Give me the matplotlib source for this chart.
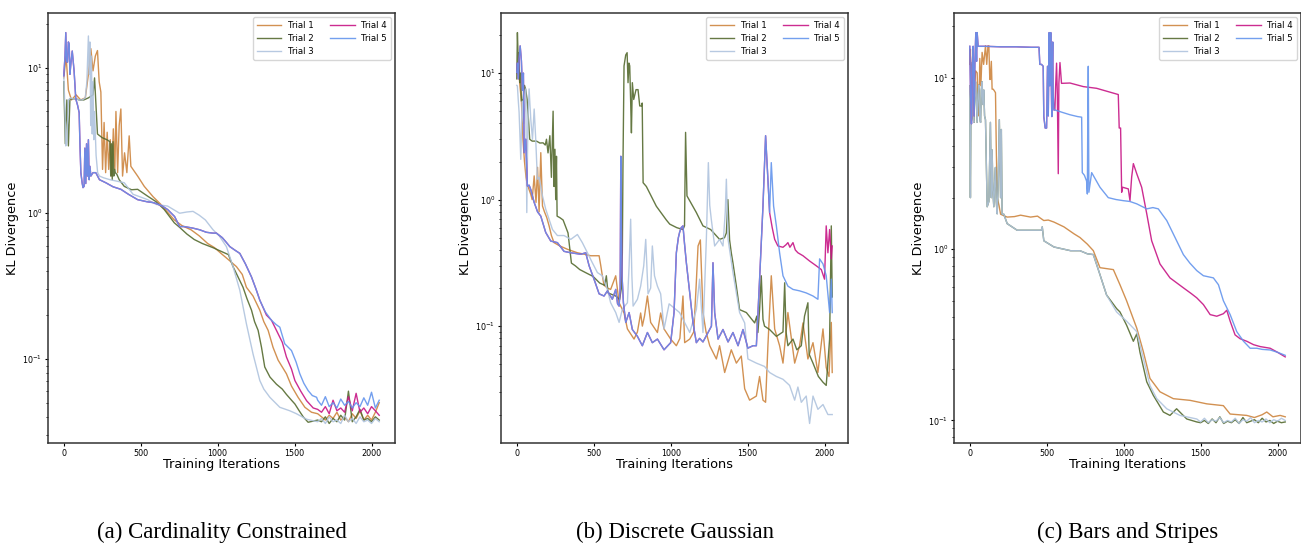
import matplotlib
matplotlib.use("Agg")
import matplotlib.pyplot as plt

# ==========================
# DATA
# ==========================
trial_names = ["Trial 1", "Trial 2", "Trial 3", "Trial 4", "Trial 5"]
trial_colors = ["peru", "darkolivegreen", "lightsteelblue", "mediumvioletred", "cornflowerblue"]
captions = ["(a) Cardinality Constrained", "(b) Discrete Gaussian", "(c) Bars and Stripes"]

# --- (a) Cardinality Constrained ---
a_tail_x = [1650, 1675, 1700, 1725, 1750, 1775, 1800, 1825, 1850, 1875,
            1900, 1925, 1950, 1975, 2000, 2025, 2050]

a1_x = [0, 15, 30, 50, 80, 110, 140, 160, 176, 190,
        205, 219, 230, 241, 252, 262, 272, 282, 292, 302,
        312, 322, 332, 339, 350, 360, 371, 382, 395, 410,
        425, 436, 480, 523, 580, 631, 680, 718, 770, 827,
        880, 935, 980, 1022, 1070, 1122, 1160, 1187, 1230, 1274,
        1300, 1328, 1360, 1393, 1420, 1447, 1480, 1523, 1567, 1610]
a1_y = [8.5, 12.0, 7.0, 6.0, 6.5, 6.0, 6.2, 9.0, 13.5, 9.5,
        12.0, 13.1, 8.0, 6.8, 2.0, 4.2, 1.9, 3.6, 2.0, 3.2,
        1.8, 3.8, 2.0, 5.0, 1.9, 4.0, 5.2, 1.8, 2.6, 1.9,
        3.4, 2.1, 1.8, 1.53, 1.3, 1.15, 1.0, 0.9, 0.82, 0.77,
        0.7, 0.62, 0.58, 0.53, 0.48, 0.43, 0.38, 0.31, 0.27, 0.216,
        0.18, 0.157, 0.12, 0.098, 0.088, 0.079, 0.065, 0.0544, 0.0465, 0.043]
a1_tail = [0.042, 0.040, 0.038, 0.041, 0.039, 0.043, 0.038, 0.040, 0.037, 0.042,
           0.039, 0.044, 0.038, 0.041, 0.038, 0.043, 0.050]

a2_x = [0, 10, 20, 30, 40, 60, 80, 100, 130, 160,
        190, 200, 219, 250, 280, 300, 305, 310, 315, 320,
        325, 330, 335, 345, 360, 393, 440, 480, 545, 600,
        653, 718, 753, 800, 848, 900, 970, 1035, 1070, 1100,
        1130, 1165, 1190, 1220, 1240, 1263, 1285, 1306, 1340, 1382,
        1420, 1447, 1480, 1502, 1530, 1556, 1588]
a2_y = [8.0, 3.0, 6.0, 2.9, 6.1, 6.1, 6.1, 6.0, 6.0, 6.2,
        6.5, 8.5, 3.5, 3.3, 3.2, 3.1, 1.8, 3.0, 1.7, 3.1,
        1.8, 2.0, 1.9, 1.85, 1.7, 1.53, 1.45, 1.46, 1.31, 1.2,
        1.06, 0.86, 0.8, 0.72, 0.66, 0.62, 0.58, 0.54, 0.52, 0.43,
        0.37, 0.31, 0.26, 0.216, 0.18, 0.157, 0.12, 0.088, 0.075, 0.067,
        0.062, 0.057, 0.052, 0.049, 0.044, 0.040, 0.0367]
a2_tail = [0.038, 0.037, 0.040, 0.036, 0.039, 0.037, 0.041, 0.038, 0.060, 0.037,
           0.040, 0.045, 0.038, 0.039, 0.037, 0.040, 0.038]

a3_x = [0, 8, 13, 20, 30, 45, 60, 80, 100, 120,
        140, 150, 160, 165, 170, 175, 180, 185, 190, 195,
        200, 210, 220, 232, 260, 300, 393, 450, 545, 600,
        675, 753, 800, 840, 880, 920, 970, 1010, 1057, 1100,
        1144, 1187, 1230, 1274, 1300, 1339, 1404, 1469, 1512, 1578]
a3_y = [8.8, 5.0, 2.9, 3.0, 6.0, 6.2, 6.1, 6.1, 6.0, 6.0,
        6.2, 8.0, 16.5, 9.0, 15.0, 4.0, 12.0, 3.5, 8.0, 3.2,
        5.0, 2.5, 1.9, 1.8, 1.75, 1.7, 1.62, 1.35, 1.24, 1.15,
        1.12, 1.0, 1.02, 1.03, 0.97, 0.9, 0.77, 0.7, 0.59, 0.43,
        0.296, 0.174, 0.108, 0.071, 0.062, 0.0545, 0.0465, 0.044, 0.042, 0.0385]
a3_tail = [0.037, 0.039, 0.036, 0.040, 0.037, 0.038, 0.036, 0.041, 0.037, 0.039,
           0.036, 0.040, 0.037, 0.038, 0.036, 0.039, 0.037]

a5_x = [0, 8, 13, 18, 24, 30, 35, 40, 46, 55,
        67, 78, 90, 100, 105, 111, 120, 125, 132, 137,
        143, 148, 154, 160, 165, 170, 176, 190, 208, 232,
        273, 320, 371, 420, 480, 540, 588, 640, 675, 720,
        753, 783, 840, 883, 927, 970, 992, 1030, 1057, 1079,
        1110, 1144, 1180, 1220, 1250, 1274, 1310, 1350, 1380, 1404,
        1436, 1480, 1510, 1534, 1560, 1588, 1615, 1643]
a5_y = [8.8, 12.0, 17.4, 11.0, 10.9, 15.0, 14.5, 9.0, 10.6, 13.0,
        9.5, 6.1, 5.5, 4.9, 3.0, 1.9, 1.6, 1.5, 1.53, 2.8,
        1.6, 3.0, 1.8, 3.2, 1.7, 2.1, 1.8, 1.9, 1.9, 1.7,
        1.62, 1.52, 1.46, 1.35, 1.24, 1.2, 1.18, 1.12, 1.06, 0.95,
        0.81, 0.81, 0.79, 0.77, 0.74, 0.73, 0.73, 0.68, 0.63, 0.59,
        0.56, 0.53, 0.45, 0.365, 0.3, 0.253, 0.21, 0.184, 0.172, 0.165,
        0.127, 0.114, 0.095, 0.079, 0.068, 0.0606, 0.056, 0.0545]
a5_tail = [0.052, 0.048, 0.055, 0.047, 0.050, 0.046, 0.053, 0.048, 0.051, 0.046,
           0.050, 0.047, 0.054, 0.048, 0.059, 0.046, 0.052]

# trial 4 runs under trial 5 until ~1270 iterations
a4_x = a5_x[:56] + [1317, 1350, 1382, 1420, 1447, 1480, 1502, 1540, 1578, 1621]
a4_y = a5_y[:56] + [0.2, 0.184, 0.157, 0.13, 0.103, 0.085, 0.071, 0.06, 0.0516, 0.046]
a4_tail = [0.045, 0.043, 0.047, 0.042, 0.052, 0.044, 0.046, 0.043, 0.055, 0.044,
           0.058, 0.043, 0.046, 0.042, 0.047, 0.044, 0.041]

# --- (b) Discrete Gaussian ---
b1_x = [0, 10, 20, 30, 40, 50, 60, 69, 80, 91,
        100, 113, 125, 135, 145, 156, 167, 180, 195, 210,
        225, 242, 280, 329, 394, 440, 480, 535, 546, 556,
        567, 590, 610, 643, 665, 697, 719, 762, 784, 805,
        816, 830, 849, 870, 914, 935, 957, 1000, 1037, 1060,
        1080, 1091, 1124, 1150, 1165, 1178, 1193, 1210, 1230, 1254,
        1297, 1318, 1351, 1394, 1427, 1459, 1481, 1513, 1557, 1578,
        1600, 1617, 1632, 1654, 1676, 1708, 1730, 1762, 1806, 1838,
        1860, 1892, 1925, 1957, 1990, 2011, 2029, 2044, 2050]
b1_y = [10.0, 12.0, 8.0, 6.0, 3.0, 2.0, 1.5, 1.3, 1.2, 1.1,
        1.0, 1.54, 0.95, 1.8, 0.8, 2.35, 0.89, 0.8, 0.72, 0.62,
        0.52, 0.457, 0.43, 0.405, 0.38, 0.37, 0.36, 0.36, 0.30, 0.25,
        0.21, 0.20, 0.195, 0.25, 0.153, 0.127, 0.095, 0.079, 0.09, 0.127,
        0.10, 0.12, 0.173, 0.107, 0.089, 0.127, 0.095, 0.079, 0.07, 0.08,
        0.173, 0.074, 0.079, 0.09, 0.2, 0.43, 0.48, 0.128, 0.09, 0.07,
        0.055, 0.07, 0.043, 0.065, 0.051, 0.058, 0.032, 0.026, 0.028, 0.04,
        0.026, 0.025, 0.07, 0.25, 0.095, 0.07, 0.051, 0.128, 0.051, 0.07,
        0.106, 0.055, 0.074, 0.043, 0.095, 0.047, 0.04, 0.107, 0.043]

b2_x = [0, 4, 10, 15, 19, 25, 30, 41, 50, 58,
        67, 75, 84, 100, 128, 150, 171, 185, 193, 203,
        215, 225, 236, 242, 248, 253, 258, 262, 280, 301,
        333, 355, 380, 409, 452, 496, 539, 572, 582, 593,
        647, 668, 680, 686, 690, 697, 708, 717, 723, 729,
        734, 740, 745, 751, 760, 775, 788, 799, 810, 815,
        821, 842, 907, 972, 994, 1040, 1080, 1090, 1097, 1106,
        1130, 1167, 1210, 1260, 1318, 1350, 1362, 1372, 1383, 1394,
        1405, 1427, 1448, 1492, 1546, 1560, 1567, 1578, 1589, 1600,
        1610, 1643, 1687, 1730, 1741, 1750, 1762, 1795, 1820, 1849,
        1870, 1892, 1900, 1925, 1960, 1990, 2011, 2033, 2044, 2050]
b2_y = [9.0, 20.9, 12.0, 14.5, 8.4, 10.0, 6.0, 6.2, 8.0, 7.4,
        6.2, 4.5, 3.0, 2.9, 2.9, 2.8, 2.81, 2.7, 3.0, 2.34,
        3.2, 1.5, 5.0, 1.27, 2.5, 1.0, 2.2, 0.74, 0.72, 0.69,
        0.545, 0.315, 0.3, 0.28, 0.263, 0.247, 0.219, 0.21, 0.25, 0.183,
        0.172, 0.162, 0.2, 0.378, 1.84, 11.4, 13.9, 14.5, 8.4, 12.0,
        11.4, 6.0, 3.37, 8.4, 6.19, 7.4, 7.4, 5.5, 5.5, 5.8,
        1.36, 1.27, 0.886, 0.69, 0.64, 0.6, 0.58, 0.62, 3.4, 1.07,
        0.95, 0.79, 0.62, 0.58, 0.485, 0.5, 0.545, 1.0, 0.48, 0.38,
        0.315, 0.207, 0.135, 0.128, 0.106, 0.12, 0.089, 0.135, 0.25, 0.113,
        0.1, 0.094, 0.083, 0.09, 0.22, 0.09, 0.07, 0.079, 0.065, 0.07,
        0.12, 0.153, 0.06, 0.051, 0.04, 0.036, 0.034, 0.079, 0.62, 0.17]

b3_x = [0, 4, 10, 15, 26, 35, 45, 58, 65, 72,
        80, 91, 102, 113, 123, 134, 145, 167, 188, 232,
        264, 307, 351, 394, 426, 459, 491, 524, 556, 589,
        610, 643, 665, 686, 719, 730, 740, 748, 756, 784,
        805, 825, 838, 853, 870, 881, 895, 914, 935, 957,
        990, 1058, 1124, 1167, 1188, 1210, 1232, 1245, 1254, 1264,
        1286, 1318, 1340, 1355, 1362, 1373, 1405, 1448, 1481, 1502,
        1557, 1610, 1643, 1687, 1730, 1773, 1806, 1827, 1849, 1881,
        1903, 1925, 1957, 1990, 2022, 2050]
b3_y = [8.0, 7.9, 6.0, 4.9, 2.08, 6.0, 4.0, 7.5, 0.79, 4.0,
        7.5, 4.3, 3.0, 5.2, 3.0, 1.45, 1.5, 1.07, 0.84, 0.58,
        0.52, 0.52, 0.485, 0.53, 0.457, 0.38, 0.317, 0.265, 0.25, 0.195,
        0.153, 0.128, 0.107, 0.136, 0.153, 0.3, 0.70, 0.25, 0.144, 0.163,
        0.207, 0.3, 0.485, 0.18, 0.2, 0.43, 0.25, 0.207, 0.18, 0.095,
        0.15, 0.128, 0.089, 0.135, 0.235, 0.089, 0.485, 1.96, 0.9, 0.7,
        0.43, 0.485, 0.43, 0.8, 1.45, 0.485, 0.265, 0.128, 0.106, 0.055,
        0.051, 0.048, 0.043, 0.040, 0.038, 0.034, 0.026, 0.033, 0.025, 0.028,
        0.017, 0.028, 0.022, 0.024, 0.020, 0.020]

b5_x = [0, 4, 10, 15, 22, 30, 37, 43, 48, 58,
        69, 80, 91, 113, 135, 156, 188, 221, 264, 307,
        351, 416, 448, 470, 502, 535, 567, 589, 621, 643,
        655, 665, 672, 676, 680, 684, 693, 708, 730, 751,
        784, 816, 849, 881, 914, 957, 1000, 1022, 1037, 1050,
        1058, 1068, 1080, 1090, 1102, 1124, 1145, 1167, 1188, 1210,
        1243, 1265, 1275, 1286, 1308, 1340, 1373, 1405, 1438, 1470,
        1502, 1535, 1557, 1578, 1600, 1617, 1632, 1643, 1654, 1669,
        1687, 1708, 1730, 1762, 1795, 1838, 1881, 1925, 1957, 1968,
        1990, 2011, 2033, 2044, 2050]
b5_y = [10.1, 12.0, 9.0, 13.0, 16.4, 12.5, 7.3, 10.0, 2.35, 3.0,
        1.28, 1.3, 1.2, 0.95, 0.8, 0.74, 0.55, 0.47, 0.457, 0.39,
        0.38, 0.37, 0.38, 0.3, 0.235, 0.18, 0.173, 0.19, 0.163, 0.195,
        0.15, 0.144, 0.2, 2.2, 0.6, 0.25, 0.153, 0.107, 0.128, 0.094,
        0.083, 0.07, 0.089, 0.074, 0.079, 0.065, 0.074, 0.128, 0.38, 0.5,
        0.55, 0.6, 0.62, 0.45, 0.317, 0.183, 0.107, 0.074, 0.08, 0.075,
        0.089, 0.1, 0.317, 0.128, 0.079, 0.094, 0.075, 0.089, 0.07, 0.094,
        0.067, 0.07, 0.07, 0.235, 0.89, 3.2, 1.45, 0.79, 1.96, 0.89,
        0.62, 0.38, 0.25, 0.207, 0.195, 0.19, 0.183, 0.173, 0.163, 0.34,
        0.31, 0.25, 0.128, 0.235, 0.128]

# trial 4 follows trial 5 until ~1640 iterations
b4_x = b5_x[:78] + [1660, 1676, 1697, 1730, 1750, 1762, 1775, 1795, 1810, 1827,
                    1860, 1903, 1946, 1979, 2000, 2011, 2022, 2033, 2044, 2050]
b4_y = b5_y[:78] + [0.6, 0.485, 0.43, 0.42, 0.44, 0.457, 0.42, 0.457, 0.4, 0.38,
                    0.36, 0.327, 0.3, 0.28, 0.235, 0.62, 0.38, 0.58, 0.34, 0.43]

# --- (c) Bars and Stripes ---
c_tail_x = [1500, 1525, 1550, 1575, 1600, 1625, 1650, 1675, 1700, 1725,
            1750, 1775, 1800, 1825, 1850, 1875, 1900, 1925, 1950, 1975,
            2000, 2025, 2050]

c1_x = [0, 4, 10, 15, 20, 26, 32, 38, 48, 53,
        59, 65, 72, 80, 90, 102, 110, 118, 124, 130,
        134, 140, 145, 152, 160, 167, 172, 178, 190, 200,
        243, 290, 330, 395, 440, 481, 510, 547, 612, 677,
        716, 764, 803, 846, 933, 976, 1019, 1085, 1128, 1171,
        1236, 1323, 1432, 1540, 1648, 1692, 1800, 1850, 1900, 1930,
        1970, 2017, 2050]
c1_y = [12.0, 14.7, 7.0, 12.0, 6.0, 5.5, 9.0, 11.0, 10.7, 7.0,
        6.0, 13.0, 9.0, 14.1, 12.0, 15.4, 12.0, 15.4, 15.4, 9.8,
        9.8, 12.5, 8.6, 8.6, 8.4, 8.2, 4.0, 2.0, 1.8, 1.6,
        1.54, 1.55, 1.58, 1.54, 1.56, 1.47, 1.48, 1.44, 1.35, 1.23,
        1.17, 1.07, 0.98, 0.78, 0.76, 0.62, 0.5, 0.346, 0.252, 0.176,
        0.147, 0.134, 0.131, 0.125, 0.122, 0.109, 0.107, 0.104, 0.108, 0.112,
        0.105, 0.107, 0.105]

c3_x = [0, 4, 8, 15, 20, 26, 32, 37, 48, 53,
        59, 64, 70, 75, 80, 85, 91, 96, 102, 108,
        113, 124, 134, 140, 145, 150, 156, 162, 167, 172,
        178, 185, 192, 200, 205, 210, 221, 243, 308, 395,
        465, 471, 481, 547, 655, 716, 764, 803, 846, 889,
        954, 1019, 1085, 1128, 1171, 1215, 1280, 1366, 1475]
c3_y = [9.0, 2.0, 8.0, 12.3, 6.0, 5.5, 8.0, 9.5, 5.5, 8.0,
        9.1, 6.0, 5.5, 8.5, 9.5, 7.0, 8.5, 6.0, 5.7, 3.0,
        1.77, 1.9, 5.5, 2.0, 3.8, 2.2, 1.77, 2.5, 3.0, 1.9,
        1.61, 2.5, 5.7, 2.0, 5.0, 1.6, 1.6, 1.41, 1.29, 1.29,
        1.29, 1.35, 1.12, 1.03, 0.98, 0.98, 0.94, 0.93, 0.71, 0.54,
        0.43, 0.38, 0.33, 0.23, 0.16, 0.134, 0.117, 0.107, 0.102]
c3_tail = [0.098, 0.103, 0.097, 0.101, 0.099, 0.104, 0.097, 0.100, 0.098, 0.103,
           0.096, 0.101, 0.099, 0.104, 0.097, 0.100, 0.098, 0.102, 0.097, 0.101,
           0.099, 0.103, 0.100]

# trial 2 is hidden under trial 3 until ~950 iterations
c2_x = c3_x[:50] + [954, 976, 1019, 1063, 1085, 1106, 1150, 1193, 1258, 1301,
                    1344, 1410, 1475]
c2_y = c3_y[:50] + [0.45, 0.43, 0.36, 0.29, 0.32, 0.25, 0.168, 0.14, 0.112, 0.107,
                    0.117, 0.102, 0.098]
c2_tail = [0.097, 0.100, 0.096, 0.102, 0.097, 0.105, 0.096, 0.099, 0.097, 0.101,
           0.096, 0.104, 0.097, 0.099, 0.101, 0.097, 0.103, 0.098, 0.100, 0.096,
           0.099, 0.097, 0.098]

c5_x = [0, 5, 11, 16, 22, 28, 33, 39, 44, 48,
        54, 100, 200, 300, 400, 450, 455, 466, 477, 481,
        490, 499, 505, 510, 516, 520, 523, 526, 529, 533,
        536, 539, 542, 547, 553, 600, 650, 700, 727, 731,
        745, 759, 764, 767, 770, 772, 774, 792, 846, 900,
        950, 998, 1040, 1085, 1150, 1190, 1225, 1250, 1280, 1334,
        1388, 1430, 1475, 1518, 1583, 1616, 1648, 1692, 1735, 1779,
        1822, 1865, 1900, 1952, 2000, 2050]
c5_y = [15.3, 8.0, 5.4, 12.0, 15.3, 6.0, 12.0, 18.4, 12.5, 18.4,
        15.3, 15.3, 15.2, 15.2, 15.1, 15.1, 12.0, 12.0, 11.7, 5.95,
        5.1, 5.1, 11.7, 6.0, 18.4, 9.0, 12.0, 18.4, 10.0, 5.95,
        12.0, 16.2, 8.0, 6.5, 6.5, 6.3, 6.1, 5.95, 5.9, 2.8,
        2.7, 2.5, 2.1, 6.0, 11.7, 5.0, 2.15, 2.8, 2.3, 2.0,
        1.95, 1.92, 1.9, 1.84, 1.72, 1.75, 1.72, 1.6, 1.47, 1.17,
        0.93, 0.83, 0.75, 0.70, 0.68, 0.62, 0.5, 0.415, 0.33, 0.29,
        0.264, 0.264, 0.26, 0.258, 0.25, 0.24]

# trial 4 follows trial 5 until ~550 iterations
c4_x = c5_x[:34] + [553, 558, 564, 569, 575, 579, 586, 596, 651, 738,
                    824, 965, 971, 980, 987, 993, 1030, 1041, 1052, 1063,
                    1085, 1117, 1150, 1182, 1236, 1301, 1388, 1440, 1475, 1518,
                    1562, 1605, 1648, 1670, 1692, 1724, 1757, 1800, 1844, 1887,
                    1952, 2000, 2050]
c4_y = c5_y[:34] + [6.5, 9.0, 12.2, 8.0, 2.76, 9.3, 12.3, 9.3, 9.34, 8.9,
                    8.7, 8.0, 5.1, 5.1, 2.15, 2.3, 2.25, 1.92, 2.64, 3.16,
                    2.76, 2.3, 1.61, 1.12, 0.82, 0.68, 0.595, 0.55, 0.52, 0.475,
                    0.415, 0.406, 0.42, 0.44, 0.38, 0.316, 0.3, 0.29, 0.277, 0.27,
                    0.264, 0.25, 0.235]

panels = [
    [(a1_x + a_tail_x, a1_y + a1_tail),
     (a2_x + a_tail_x, a2_y + a2_tail),
     (a3_x + a_tail_x, a3_y + a3_tail),
     (a4_x + a_tail_x, a4_y + a4_tail),
     (a5_x + a_tail_x, a5_y + a5_tail)],
    [(b1_x, b1_y), (b2_x, b2_y), (b3_x, b3_y), (b4_x, b4_y), (b5_x, b5_y)],
    [(c1_x, c1_y),
     (c2_x + c_tail_x, c2_y + c2_tail),
     (c3_x + c_tail_x, c3_y + c3_tail),
     (c4_x, c4_y),
     (c5_x, c5_y)],
]

# ==========================
# PLOT
# ==========================
fig = plt.figure(figsize=(13.01, 5.46), dpi=100)
lefts = [0.0369, 0.3851, 0.7333]

for i, series in enumerate(panels):
    ax = fig.add_axes([lefts[i], 0.1886, 0.2667, 0.7875])
    for (xs, ys), name, col in zip(series, trial_names, trial_colors):
        ax.plot(xs, ys, color=col, lw=1.0, alpha=0.9, label=name)
    ax.set_yscale("log")
    ax.set_xticks([0, 500, 1000, 1500, 2000])
    ax.tick_params(which="major", labelsize=5.8, length=2.2, width=0.8, pad=2)
    ax.tick_params(which="minor", length=1.3, width=0.6)
    for sp in ax.spines.values():
        sp.set_linewidth(1.1)
        sp.set_color("#333333")
    ax.set_xlabel("Training Iterations", fontsize=9.3, labelpad=0)
    ax.set_ylabel("KL Divergence", fontsize=9.3, labelpad=2)
    ax.legend(loc="upper right", ncol=2, fontsize=6.2, handlelength=2.8)
    cx = lefts[i] + 0.2667 / 2
    fig.text(cx, 0.025, captions[i], ha="center", va="center",
             family="Liberation Serif", fontsize=16.5)

fig.savefig("out.png", dpi=100)
